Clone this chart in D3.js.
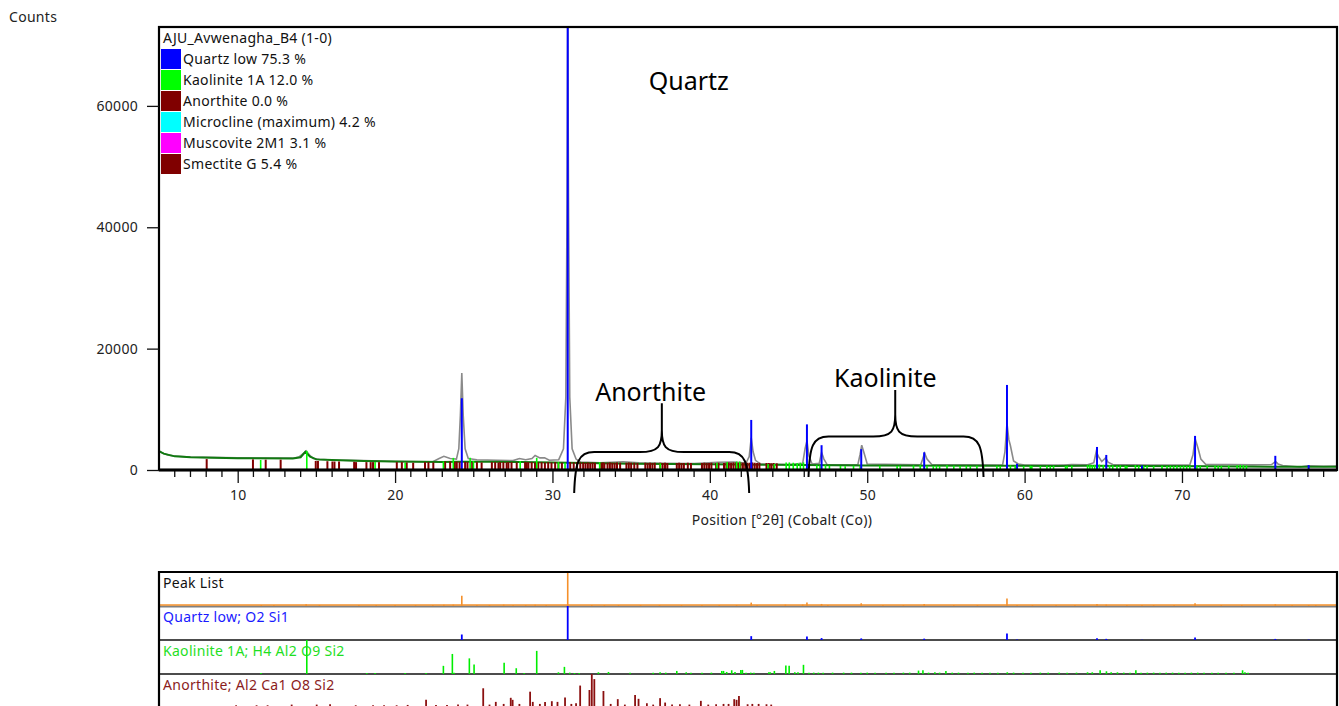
<!DOCTYPE html>
<html>
<head>
<meta charset="utf-8">
<script src="https://cdn.jsdelivr.net/npm/d3@7"></script>
<style>
  body { margin: 0; background: #fff; }
  text { font-family: "Noto Sans", sans-serif; }
</style>
</head>
<body>
<div id="chart"></div>
<script>
// Axis ticks
const xTicks = [10, 20, 30, 40, 50, 60, 70];
const xMinorTicks = [6, 7, 8, 9, 11, 12, 13, 14, 15, 16, 17, 18, 19, 21, 22, 23, 24, 25, 26, 27, 28, 29,
  31, 32, 33, 34, 35, 36, 37, 38, 39, 41, 42, 43, 44, 45, 46, 47, 48, 49, 51, 52, 53, 54, 55, 56, 57, 58, 59,
  61, 62, 63, 64, 65, 66, 67, 68, 69, 71, 72, 73, 74, 75, 76, 77, 78, 79];
const yTicks = [0, 20000, 40000, 60000];

// Legend
const legendTitle = 'AJU_Avwenagha_B4 (1-0)';
const legendNames = ['Quartz low 75.3 %', 'Kaolinite 1A 12.0 %', 'Anorthite 0.0 %',
  'Microcline (maximum) 4.2 %', 'Muscovite 2M1 3.1 %', 'Smectite G 5.4 %'];
const legendColors = ['#0000ff', '#00ff00', '#800000', '#00ffff', '#ff00ff', '#800000'];

// Observed pattern (gray)
const obsTheta = [5.0, 5.25, 5.6, 6.0, 7.0, 8.0, 10, 12, 13.5, 13.9, 14.2, 14.35, 14.55, 14.8, 15.2, 16, 18, 20,
  22.4, 22.8, 23.1, 23.5, 23.9, 24.05, 24.15, 24.24, 24.33, 24.45, 24.65, 25.2, 26.5, 27.5, 27.9, 28.3, 28.7,
  28.9, 29.2, 29.5, 29.8, 30.4, 30.7, 30.85, 30.93, 30.97, 31.02, 31.1, 31.25, 31.5, 31.8, 33, 34.5, 35.5, 37,
  39, 40.5, 41.5, 42.3, 42.5, 42.63, 42.75, 42.9, 43.2, 45, 45.9, 46.05, 46.17, 46.3, 46.5, 46.95, 47.1, 47.25,
  47.45, 49.4, 49.55, 49.65, 49.8, 50.0, 53.4, 53.55, 53.65, 53.8, 54.1, 58.6, 58.75, 58.88, 59.0, 59.1, 59.3,
  59.6, 60, 62.5, 63, 64, 64.4, 64.55, 64.7, 64.9, 65.15, 65.3, 65.6, 68, 70.5, 70.7, 70.83, 70.95, 71.05,
  71.2, 71.5, 73, 74.5, 75.7, 75.85, 75.95, 76.1, 76.4, 77.5, 78.0, 79, 79.85];
const obsCounts = [3150, 2750, 2450, 2300, 2150, 2080, 2000, 1980, 1950, 2150, 2800, 3150, 2500, 1900, 1750, 1650,
  1550, 1400, 1350, 1900, 2250, 1900, 1800, 3500, 9000, 16000, 9000, 3500, 1900, 1700, 1600, 1550, 1900, 1700,
  1900, 2400, 2000, 2000, 1600, 1700, 3500, 12000, 45000, 75000, 45000, 12000, 3500, 1800, 1300, 1200, 1350, 1200,
  1100, 1050, 1250, 1300, 1150, 2200, 5300, 3000, 1600, 1000, 900, 1100, 3500, 4800, 2300, 1000, 1100, 2900,
  1800, 900, 850, 2600, 4100, 2800, 1000, 850, 2000, 2750, 1800, 900, 800, 3000, 7700, 5000, 4000, 1500, 1000,
  800, 800, 900, 850, 1200, 3000, 2200, 1400, 2000, 1300, 900, 800, 850, 2500, 5200, 4200, 3300, 1800, 950,
  900, 850, 900, 1200, 1400, 1000, 750, 500, 700, 600, 650];

// Calculated / background (dark green)
const bgTheta = [5, 5.3, 6, 7, 10, 13.5, 14.0, 14.3, 14.6, 15, 16, 18, 20, 23, 24, 26, 28, 30, 32, 35, 40, 44,
  50, 58, 62, 64, 67, 72, 76, 79.85];
const bgCounts = [3100, 2700, 2250, 2100, 1950, 1900, 2100, 3000, 2200, 1750, 1650, 1500, 1400, 1300, 1350, 1350,
  1300, 1250, 1150, 1050, 950, 850, 750, 700, 650, 700, 650, 600, 550, 550];

// Quartz low reference (relative intensity %)
const quartzPos = [24.24, 30.97, 42.63, 46.17, 47.10, 49.62, 53.62, 58.88, 59.52, 64.60, 65.19, 67.46, 70.83, 75.93, 78.05];
const quartzRel = [16.2, 100, 11.3, 10.3, 5.6, 4.7, 4.0, 19.2, 1.4, 5.2, 3.4, 1.0, 7.7, 3.2, 1.1];
const quartzScale = 73000;

// Kaolinite sticks in the main plot (counts)
const kaolMainPos = [11.46, 14.39, 18.73, 20.64, 23.07, 23.70, 24.77, 24.98, 27.95, 29.00, 30.38, 30.80, 33.00,
  36.85, 40.45, 41.10, 41.70, 41.90, 43.70, 44.10, 44.85, 45.05, 45.30, 45.55, 45.75, 45.95, 46.80, 47.00, 47.35,
  47.60, 48.30, 48.60, 49.13, 49.55, 50.80, 51.90, 52.10, 52.94, 53.37, 53.80, 54.20, 54.40, 54.60, 55.07, 55.50,
  55.90, 56.30, 56.55, 56.97, 57.40, 58.24, 58.45, 59.10, 59.40, 59.94, 60.36, 60.46, 61.00, 61.42, 61.63, 61.84,
  62.60, 62.70, 63.00, 64.00, 64.15, 64.30, 64.45, 64.75, 65.00, 65.40, 65.60, 65.87, 66.08, 66.40, 66.50, 67.04,
  67.25, 67.57, 67.78, 68.20, 68.73, 69.05, 69.26, 69.47, 69.68, 69.90, 70.10, 70.30, 70.50, 70.95, 71.16, 71.60,
  72.10, 72.30, 72.50, 72.97, 73.50, 73.70, 73.90, 74.10];
const kaolMainCounts = [1650, 3150, 1300, 1200, 1400, 2000, 2000, 1500, 1500, 2000, 1300, 1200, 1300,
  1100, 1200, 1300, 1400, 1400, 1000, 1000, 1250, 1250, 1200, 1150, 1200, 1250, 800, 750, 800,
  700, 650, 600, 700, 650, 700, 650, 700, 750, 800, 700, 650, 700, 650, 800, 700,
  650, 700, 650, 700, 650, 700, 650, 750, 700, 650, 700, 650, 650, 700, 650, 700,
  650, 700, 700, 800, 850, 800, 850, 900, 850, 800, 750, 700, 750, 700, 650, 800,
  700, 650, 700, 650, 700, 650, 700, 650, 700, 650, 700, 650, 700, 700, 650, 650,
  700, 650, 650, 700, 800, 850, 800, 750];

// Anorthite / Smectite sticks in the main plot (counts)
const maroonPos = [8.03, 10.97, 11.78, 12.73, 14.96, 15.10, 15.70, 16.02, 16.15, 16.44, 17.40, 17.52, 18.18, 18.45,
  18.60, 18.98, 20.11, 20.43, 20.74, 21.15, 21.90, 22.12, 22.43, 23.18, 23.50, 23.80, 23.92, 24.10, 24.45, 24.60,
  24.90, 25.20, 25.50, 26.15, 26.36, 26.57, 26.68, 26.88, 27.09, 27.20, 27.40, 27.73, 28.26, 28.37, 28.47, 28.68,
  28.89, 29.10, 29.31, 29.52, 29.73, 29.94, 30.17, 30.38, 30.60, 31.13, 31.35, 31.56, 31.77, 31.95, 32.10, 32.25,
  32.40, 32.55, 32.70, 33.10, 33.20, 33.30, 33.50, 33.65, 33.80, 33.95, 34.10, 34.30, 34.70, 34.85, 35.00, 35.20,
  35.40, 35.90, 36.05, 36.20, 36.35, 36.50, 36.85, 37.00, 37.15, 37.30, 37.90, 38.05, 38.20, 38.35, 38.60, 38.80,
  39.50, 39.65, 39.80, 39.95, 40.10, 40.40, 40.55, 40.90, 41.05, 41.20, 41.35, 41.50, 41.65, 41.80, 41.95, 42.10,
  42.25, 42.40, 42.55, 42.70, 42.85, 43.00, 43.15, 43.60, 43.75, 43.90, 44.05, 44.25];
const maroonCounts = [1800, 1750, 1700, 1700, 1500, 1500, 1450, 1400, 1400, 1400, 1350, 1300, 1300, 1300,
  1300, 1300, 1300, 1300, 1250, 1200, 1300, 1300, 1250, 1400, 1400, 1350, 1400, 1350, 1350, 1300,
  1300, 1300, 1250, 1300, 1300, 1250, 1300, 1300, 1250, 1300, 1300, 1250, 1300, 1250, 1300, 1300,
  1250, 1300, 1300, 1250, 1300, 1250, 1300, 1250, 1200, 1300, 1250, 1300, 1250, 1250, 1200, 1250,
  1200, 1250, 1200, 1200, 1250, 1200, 1200, 1250, 1200, 1200, 1250, 1200, 1200, 1250, 1200, 1200,
  1150, 1200, 1150, 1200, 1150, 1200, 1200, 1150, 1200, 1150, 1150, 1200, 1150, 1150, 1200, 1150,
  1150, 1200, 1150, 1150, 1200, 1150, 1200, 1150, 1200, 1250, 1200, 1250, 1250, 1200, 1250, 1200,
  1250, 1200, 1200, 1250, 1200, 1150, 1200, 1150, 1150, 1100, 1150, 1100];

// Peak list (relative %)
const peakPos = [11.5, 12.3, 14.35, 15.2, 17.7, 18.8, 20.0, 21.3, 22.4, 23.1, 23.7, 24.24, 25.2, 26.0, 26.9, 27.5,
  28.3, 28.9, 29.6, 30.97, 32.5, 33.3, 34.2, 35.6, 36.8, 38.2, 39.5, 40.6, 41.7, 42.63, 43.0, 44.8, 45.9, 46.17,
  47.1, 47.5, 49.62, 51.0, 52.3, 53.62, 55.5, 57.0, 58.88, 59.52, 60.5, 62.0, 63.2, 64.6, 65.19, 66.5, 67.46,
  68.2, 69.5, 70.83, 72.5, 73.8, 75.93, 77.0, 78.05, 78.5];
const peakRel = [3, 3, 5, 3, 3, 3, 3, 3, 3, 4, 4, 30, 3, 3, 4, 3,
  3, 4, 3, 100, 3, 3, 3, 3, 3, 3, 3, 3, 3, 10, 3, 4, 4, 10,
  6, 3, 8, 3, 3, 6, 3, 3, 22, 3, 3, 3, 3, 6, 4, 3, 3,
  3, 3, 8, 3, 3, 5, 3, 3, 3];

// Kaolinite 1A pattern (relative %)
const kaolPanelPos = [11.48, 14.39, 18.2, 18.73, 20.64, 21.97, 23.07, 23.64, 23.75, 24.72, 25.02, 26.93, 27.7,
  28.2, 29.0, 30.38, 30.76, 31.1, 31.4, 31.7, 32.92, 33.56, 34.93, 36.4, 36.84, 37.2, 37.9, 38.5, 38.8, 39.5,
  40.1, 40.76, 40.87, 41.07, 41.39, 41.6, 41.97, 42.07, 42.3, 42.6, 42.8, 43.75, 43.84, 44.1, 44.83, 45.04,
  45.4, 45.6, 45.95, 46.3, 46.6, 46.9, 47.2, 47.8, 48.5, 49.0, 49.6, 50.0, 50.5, 51.2, 51.7, 52.3, 52.7, 53.26,
  53.54, 53.9, 54.3, 54.6, 55.0, 55.4, 55.8, 56.4, 56.8, 57.3, 57.8, 58.3, 58.9, 59.3, 59.9, 60.4, 61.0, 61.5,
  62.2, 62.7, 63.3, 64.0, 64.3, 64.8, 65.2, 65.5, 65.9, 66.3, 66.7, 67.07, 67.4, 67.8, 68.2, 68.6, 69.0, 69.4,
  69.8, 70.2, 70.6, 71.0, 71.4, 71.9, 72.3, 72.8, 73.3, 73.85, 74.0, 74.2];
const kaolPanelRel = [3, 100, 3, 3, 3, 3, 24, 59, 4, 46, 28, 33, 17,
  3, 68, 5, 21, 4, 3, 3, 5, 6, 4, 4, 5, 4, 9, 5, 4, 4,
  4, 9, 9, 6, 11, 6, 12, 12, 4, 4, 4, 5, 5, 9, 25, 24,
  5, 5, 27, 4, 4, 4, 4, 4, 4, 4, 4, 4, 4, 4, 4, 4, 4, 10,
  11, 4, 5, 4, 9, 4, 4, 4, 4, 4, 4, 4, 5, 4, 4, 4, 4, 4,
  4, 4, 4, 5, 5, 11, 8, 5, 5, 4, 4, 11, 4, 4, 4, 4, 4, 4,
  4, 4, 4, 4, 4, 4, 4, 4, 4, 11, 5, 4];

// Anorthite pattern (relative %)
const anoPanelPos = [9.9, 11.2, 11.9, 13.43, 15.02, 15.87, 17.5, 18.6, 19.3, 20.1, 20.8, 21.97, 22.6, 23.3, 24.0,
  24.6, 25.6, 26.0, 26.4, 26.9, 27.35, 27.47, 27.9, 28.58, 28.75, 29.2, 29.53, 29.96, 30.32, 30.8, 31.2, 31.5,
  31.76, 32.35, 32.5, 32.66, 33.24, 33.7, 34.15, 34.6, 35.25, 35.47, 36.0, 36.4, 36.84, 37.16, 37.6, 38.1, 38.7,
  39.43, 39.9, 40.4, 40.87, 41.19, 41.55, 41.7, 41.85, 42.4, 42.7, 43.1, 43.6, 43.9];
const anoPanelRel = [8, 8, 8, 10, 10, 11, 8, 8, 8, 8, 9, 24, 9, 9, 10,
  10, 58, 10, 18, 12, 30, 24, 12, 48, 18, 12, 18, 20, 18, 31, 12, 14,
  66, 53, 100, 85, 50, 12, 26, 10, 38, 27, 14, 10, 29, 16, 10, 11, 10,
  21, 10, 11, 12, 12, 26, 24, 35, 11, 12, 12, 11, 10];

// Panel rows
const panelLabels = ['Peak List', 'Quartz low; O2 Si1', 'Kaolinite 1A; H4 Al2 O9 Si2', 'Anorthite; Al2 Ca1 O8 Si2'];
const panelColors = ['#111111', '#1a1aff', '#1fe01f', '#8b1c1c'];

// Annotations (theta, counts)
const annotations = [
  { text: 'Quartz', theta: 38.66, counts: 63800 },
  { text: 'Anorthite', theta: 36.24, counts: 12400 },
  { text: 'Kaolinite', theta: 51.15, counts: 14700 }
];
const braces = [
  { left: 31.38, mid: 36.95, right: 42.50, bottom: -3800, level: 2950, top: 11000 },
  { left: 46.27, mid: 51.78, right: 57.39, bottom: -1150, level: 5500, top: 13200 }
];

// Layout
const W = 1339, H = 706;
const L = 159, R = 1337, T = 27, B = 470;
const FS = 14, LS = 0.3; // text size and letter spacing

const svg = d3.select('#chart')
  .append('svg')
  .attr('width', W)
  .attr('height', H)
  .style('display', 'block');

const x = d3.scaleLinear().domain([5, 79.85]).range([L, R]);
const y = d3.scaleLinear().domain([0, 73000]).range([B, T]);

svg.append('clipPath').attr('id', 'plotclip')
  .append('rect').attr('x', L).attr('y', T).attr('width', R - L).attr('height', B - T);

const plot = svg.append('g').attr('clip-path', 'url(#plotclip)');

// observed + calculated lines
const line = d3.line().x(d => x(d[0])).y(d => y(d[1]));
plot.append('path')
  .datum(d3.zip(obsTheta, obsCounts))
  .attr('d', line)
  .attr('fill', 'none')
  .attr('stroke', '#8a8a8a')
  .attr('stroke-width', 1.6);

plot.append('path')
  .datum(d3.zip(bgTheta, bgCounts))
  .attr('d', line)
  .attr('fill', 'none')
  .attr('stroke', '#107a10')
  .attr('stroke-width', 2);

// sticks in main plot
function mainSticks(pos, counts, color, width) {
  plot.append('g').selectAll('line')
    .data(d3.zip(pos, counts))
    .enter()
    .append('line')
    .attr('x1', d => x(d[0]))
    .attr('x2', d => x(d[0]))
    .attr('y1', y(0))
    .attr('y2', d => y(d[1]))
    .attr('stroke', color)
    .attr('stroke-width', width);
}
mainSticks(maroonPos, maroonCounts, '#800000', 2);
mainSticks(kaolMainPos, kaolMainCounts, '#00ff00', 1.6);
mainSticks(quartzPos, quartzRel.map(r => r / 100 * quartzScale), '#0000ff', 2);

// frame
svg.append('rect')
  .attr('x', L).attr('y', T)
  .attr('width', R - L).attr('height', B - T)
  .attr('fill', 'none')
  .attr('stroke', '#000')
  .attr('stroke-width', 2.2);

// y axis
const yAxis = svg.append('g')
  .attr('transform', `translate(${L},0)`)
  .call(d3.axisLeft(y).tickValues(yTicks).tickSize(12).tickPadding(9).tickFormat(d3.format('d')));
yAxis.select('.domain').remove();
yAxis.selectAll('line').attr('stroke', '#111').attr('stroke-width', 1.3);
yAxis.selectAll('text').attr('font-size', FS).attr('letter-spacing', LS).attr('fill', '#222');

// x axis
const xAxis = svg.append('g')
  .attr('transform', `translate(0,${B})`)
  .call(d3.axisBottom(x).tickValues(xTicks).tickSize(13).tickPadding(7).tickFormat(d3.format('d')));
xAxis.select('.domain').remove();
xAxis.selectAll('line').attr('stroke', '#111').attr('stroke-width', 1.3);
xAxis.selectAll('text').attr('font-size', FS).attr('letter-spacing', LS).attr('fill', '#222');

svg.append('g').selectAll('line')
  .data(xMinorTicks)
  .enter()
  .append('line')
  .attr('x1', d => x(d)).attr('x2', d => x(d))
  .attr('y1', B).attr('y2', B + 7)
  .attr('stroke', '#111').attr('stroke-width', 1.3);

svg.append('line')
  .attr('x1', L).attr('x2', R).attr('y1', B).attr('y2', B)
  .attr('stroke', '#000').attr('stroke-width', 3);

svg.append('text')
  .attr('x', 9).attr('y', 18)
  .attr('dominant-baseline', 'middle')
  .attr('font-size', FS).attr('letter-spacing', LS).attr('fill', '#222')
  .text('Counts');

svg.append('text')
  .attr('x', 782).attr('y', 521)
  .attr('text-anchor', 'middle')
  .attr('dominant-baseline', 'middle')
  .attr('font-size', FS).attr('letter-spacing', LS).attr('fill', '#222')
  .text('Position [°2θ] (Cobalt (Co))');

// legend
svg.append('text')
  .attr('x', 163).attr('y', 39)
  .attr('dominant-baseline', 'middle')
  .attr('font-size', FS).attr('letter-spacing', LS).attr('fill', '#111')
  .text(legendTitle);

const legend = svg.append('g').selectAll('g')
  .data(legendNames)
  .enter()
  .append('g')
  .attr('transform', (d, i) => `translate(161,${49 + i * 21})`);
legend.append('rect')
  .attr('width', 20).attr('height', 20)
  .attr('fill', (d, i) => legendColors[i]);
legend.append('text')
  .attr('x', 22).attr('y', 11)
  .attr('dominant-baseline', 'middle')
  .attr('font-size', FS).attr('letter-spacing', LS).attr('fill', '#111')
  .text(d => d);

// annotations
svg.append('g').selectAll('text')
  .data(annotations)
  .enter()
  .append('text')
  .attr('x', d => x(d.theta))
  .attr('y', d => y(d.counts))
  .attr('text-anchor', 'middle')
  .attr('dominant-baseline', 'middle')
  .attr('font-family', '"Open Sans", sans-serif')
  .attr('font-size', 25)
  .attr('fill', '#000')
  .text(d => d.text);

function bracePath(b) {
  const l = x(b.left), m = x(b.mid), r = x(b.right);
  const yb = y(b.bottom), yh = y(b.level), yt = y(b.top);
  const w = 22;
  return `M${l},${yb} C${l + 1},${yh + 10} ${l + 4},${yh} ${l + 20},${yh}` +
    ` L${m - w},${yh} C${m - 3},${yh} ${m},${yh - 6} ${m},${yh - 22} L${m},${yt}` +
    ` M${m},${yh - 22} C${m},${yh - 6} ${m + 3},${yh} ${m + w},${yh}` +
    ` L${r - 20},${yh} C${r - 4},${yh} ${r - 1},${yh + 10} ${r},${yb}`;
}
svg.append('g').selectAll('path')
  .data(braces)
  .enter()
  .append('path')
  .attr('d', bracePath)
  .attr('fill', 'none')
  .attr('stroke', '#000')
  .attr('stroke-width', 2);

// ---- lower panel ----
const PT = 572, rowH = 34;
const hScale = d3.scaleLinear().domain([0, 100]).range([0, rowH]);

svg.append('clipPath').attr('id', 'panelclip')
  .append('rect').attr('x', L).attr('y', PT).attr('width', R - L).attr('height', H - PT);
const panel = svg.append('g').attr('clip-path', 'url(#panelclip)');

function panelSticks(pos, rel, row, color, width) {
  const base = PT + rowH * (row + 1);
  panel.append('g').selectAll('line')
    .data(d3.zip(pos, rel))
    .enter()
    .append('line')
    .attr('x1', d => x(d[0])).attr('x2', d => x(d[0]))
    .attr('y1', base)
    .attr('y2', d => base - hScale(d[1]))
    .attr('stroke', color)
    .attr('stroke-width', width);
}

// row separators
panel.append('line')
  .attr('x1', L).attr('x2', R).attr('y1', PT + rowH + 0.5).attr('y2', PT + rowH + 0.5)
  .attr('stroke', '#808080').attr('stroke-width', 2);
panel.append('line')
  .attr('x1', L).attr('x2', R).attr('y1', PT + rowH - 1).attr('y2', PT + rowH - 1)
  .attr('stroke', '#f5902a').attr('stroke-width', 1.5);
[2, 3].forEach(k => {
  panel.append('line')
    .attr('x1', L).attr('x2', R).attr('y1', PT + rowH * k).attr('y2', PT + rowH * k)
    .attr('stroke', '#111').attr('stroke-width', 1.5);
});

panelSticks(peakPos, peakRel, 0, '#f5902a', 1.6);
panelSticks(quartzPos, quartzRel, 1, '#0000ff', 1.8);
panelSticks(kaolPanelPos, kaolPanelRel, 2, '#00ee00', 1.6);
panelSticks(anoPanelPos, anoPanelRel, 3, '#8b1010', 1.8);

panel.append('g').selectAll('text')
  .data(panelLabels)
  .enter()
  .append('text')
  .attr('x', L + 4)
  .attr('y', (d, i) => PT + 12 + i * rowH)
  .attr('dominant-baseline', 'middle')
  .attr('font-size', FS).attr('letter-spacing', LS)
  .attr('fill', (d, i) => panelColors[i])
  .text(d => d);

// panel frame
svg.append('path')
  .attr('d', `M${L},${H + 5} L${L},${PT} L${R},${PT} L${R},${H + 5}`)
  .attr('fill', 'none')
  .attr('stroke', '#000')
  .attr('stroke-width', 2.2);
</script>
</body>
</html>
